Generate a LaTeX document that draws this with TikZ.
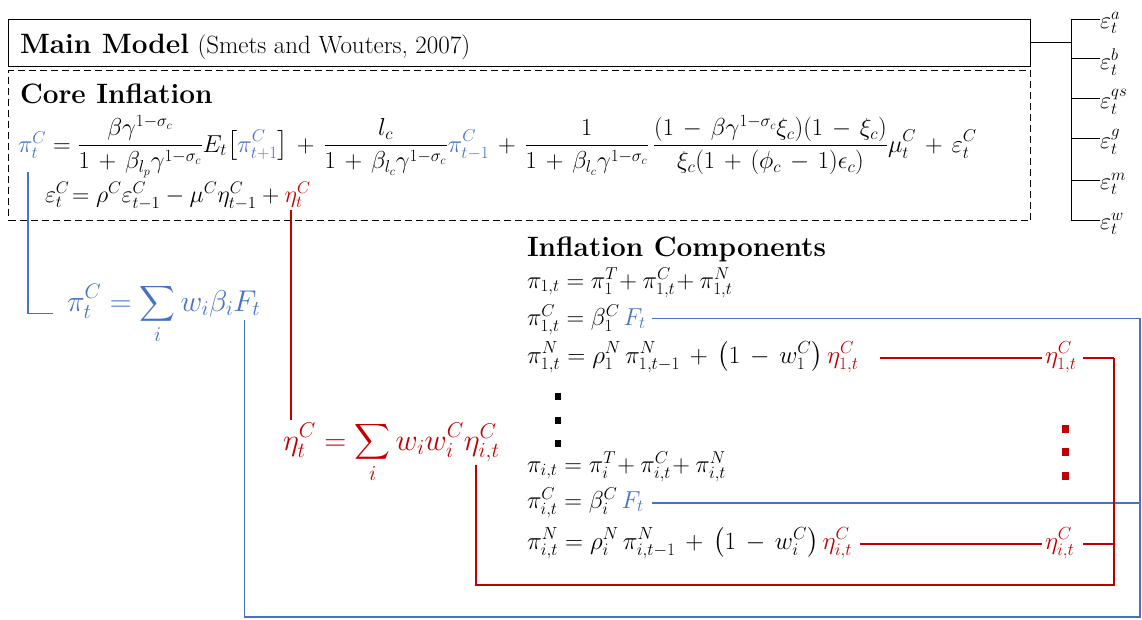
\RequirePackage{fix-cm}
\documentclass[tikz,border=0pt]{standalone}
\usepackage{amsmath}
\definecolor{cblue}{HTML}{4472C4}
\definecolor{cred}{HTML}{C00000}
\newcommand{\fs}[1]{\fontsize{#1}{#1}\selectfont}
\begin{document}
\begin{tikzpicture}[x=1pt,y=-1pt,
  txt/.style={inner sep=0pt,outer sep=0pt,anchor=base west},
  frame/.style={draw,line width=1.1pt,inner sep=0pt,anchor=north west},
  blk/.style={draw=black,line width=1pt},
  bl/.style={draw=cblue,line width=1.3pt},
  rd/.style={draw=cred,line width=1.3pt},
  shock/.style={inner sep=0pt,anchor=west,font=\fs{24}}]
\useasboundingbox (0,0) rectangle (1142,619);
% boxes
\node[frame,minimum width=1022,minimum height=47] (main) at (8,19) {};
\node[frame,dashed,dash pattern=on 7pt off 4pt,minimum width=1022,minimum height=150] (core) at (8,70) {};
\node[txt] (mtitle) at (20,53) {\fs{28}\textbf{Main Model} \fs{25}(Smets and Wouters, 2007)};
\node[txt] (ctitle) at (20,103) {\fs{28}\textbf{Core Inflation}};
% core equation
\node[txt] (piC) at (18,152) {\fs{24.5}$\color{cblue}\pi_t^C$};
\node[txt] (coreeq) at (piC.base east) {\fs{24.5}\medmuskip=6.5mu plus 2mu minus 2mu$\displaystyle {}=\frac{\beta\gamma^{1-\sigma_c}}{1+\beta_{l_p}\gamma^{1-\sigma_c}}E_t\bigl[{\color{cblue}\pi^C_{t+1}}\bigr]+\frac{l_c}{1+\beta_{l_c}\gamma^{1-\sigma_c}}{\color{cblue}\pi^C_{t-1}}+\frac{1}{1+\beta_{l_c}\gamma^{1-\sigma_c}}\,\frac{(1-\beta\gamma^{1-\sigma_c}\xi_c)(1-\xi_c)}{\xi_c(1+(\phi_c-1)\epsilon_c)}\mu_t^C+\varepsilon_t^C$};
\node[txt] (epseq) at (45,202) {\fs{24}$\varepsilon_t^C\!=\rho^C\varepsilon^C_{t-1}-\mu^C\eta^C_{t-1}+{}$};
\node[txt] (etaC) at (epseq.base east) {\fs{24}$\color{cred}\eta_t^C$};
% shocks tree
\coordinate (tj) at (1071,42);
\coordinate (tt) at (1071,19);
\coordinate (tb) at (1071,220);
\node[shock] (ea) at (1100,23) {$\varepsilon_t^a$};
\node[shock] (eb) at (1100,62) {$\varepsilon_t^b$};
\node[shock] (eq) at (1100,102) {$\varepsilon_t^{qs}$};
\node[shock] (eg) at (1100,142) {$\varepsilon_t^g$};
\node[shock] (em) at (1100,184) {$\varepsilon_t^m$};
\node[shock] (ew) at (1100,224) {$\varepsilon_t^w$};
\draw[blk] (main.east |- tj) -- (tj);
\draw[blk] (tt) -- (tb);
\foreach \n/\yy in {ea/19,eb/58,eq/98,eg/138,em/180,ew/220}
  \draw[blk] (1071,\yy) -- (\n.west |- 0,\yy);
% blue sum
\node[txt] (bsum) at (67,311) {\fs{30}$\color{cblue}\displaystyle \pi_t^C=\sum_i w_i\beta_i$};
\node[txt] (bF) at (bsum.base east) {\fs{30}$\color{cblue}F_t$};
% red sum
\node[txt] (rsum) at (283,450) {\fs{30.5}$\color{cred}\displaystyle \eta_t^C=\sum_i w_iw_i^C$};
\node[txt] (rEta) at (rsum.base east) {\fs{30.5}$\color{cred}\eta^C_{i,t}$};
% inflation components
\node[txt] (ictitle) at (527,256) {\fs{28}\textbf{Inflation Components}};
\node[txt] (a1) at (527,288) {\fs{24.5}$\pi_{1,t}=\pi_1^T\!+\pi^C_{1,t}\!+\pi^N_{1,t}$};
\node[txt] (b1) at (527,325) {\fs{24.5}$\pi^C_{1,t}=\beta_1^C$};
\node[txt] (f1) at (b1.base east) {\fs{24.5}$\,\color{cblue}F_t$};
\node[txt] (c1) at (527,363) {\fs{25}\medmuskip=7mu$\pi^N_{1,t}=\rho_1^N\,\pi^N_{1,t-1}+\bigl(1-w_1^C\bigr)\,$};
\node[txt] (n1) at (c1.base east) {\fs{25}$\color{cred}\eta^C_{1,t}$};
\node[txt] (ai) at (527,472) {\fs{24.5}$\pi_{i,t}=\pi_i^T\!+\pi^C_{i,t}\!+\pi^N_{i,t}$};
\node[txt] (bi) at (527,508) {\fs{24.5}$\pi^C_{i,t}=\beta_i^C$};
\node[txt] (fi) at (bi.base east) {\fs{24.5}$\,\color{cblue}F_t$};
\node[txt] (ci) at (527,549) {\fs{25}\medmuskip=7mu$\pi^N_{i,t}=\rho_i^N\,\pi^N_{i,t-1}+\bigl(1-w_i^C\bigr)\,$};
\node[txt] (ni) at (ci.base east) {\fs{25}$\color{cred}\eta^C_{i,t}$};
\node[txt] (r1) at (1045,363) {\fs{25}$\color{cred}\eta^C_{1,t}$};
\node[txt] (ri) at (1045,549) {\fs{25}$\color{cred}\eta^C_{i,t}$};
% dots
\foreach \yy in {396,420,443} \fill[black] (555,\yy-3.5) rectangle (561,\yy+3.5);
\foreach \yy in {429,452,476} \fill[cred] (1062,\yy-4) rectangle (1069,\yy+4);
% connector end points
\coordinate (bR) at (1140,617);
\coordinate (bA) at (28,172);
\coordinate (bB) at ([xshift=-14pt]bsum.west);
\coordinate (bF0) at ([xshift=-2pt,yshift=-4pt]bF.south);
\coordinate (f1e) at ([xshift=6pt]f1.east);
\coordinate (fie) at (652,503);
\coordinate (fiR) at (1140,503);
\coordinate (rR) at (1114,585);
\coordinate (eC0) at (291,210);
\coordinate (eC1) at (291,420);
\coordinate (rE0) at ([xshift=12pt,yshift=-3pt]rEta.south west);
\coordinate (r1R) at (1114,358);
\coordinate (r1t) at (1083,358);
\coordinate (n1e) at (880,358);
\coordinate (r1w) at (1042,358);
\coordinate (nie) at (860,544);
\coordinate (riw) at (1042,544);
\coordinate (rie) at (1083,544);
\coordinate (riR) at (1114,544);
% blue connectors
\draw[bl] (bA) |- (bB);
\draw[bl] (bF0) -- (bF0 |- bR) -- (bR) -- (bR |- f1e) -- (f1e);
\draw[bl] (fie) -- (fiR);
% red connectors
\draw[rd] (rE0) |- (rR) -- (r1R);
\draw[rd] (r1R) -- (r1t);
\draw[rd] (rie) -- (riR);
\draw[rd] (eC0) -- (eC1);
\draw[rd] (n1e) -- (r1w);
\draw[rd] (nie) -- (riw);
\end{tikzpicture}
\end{document}
